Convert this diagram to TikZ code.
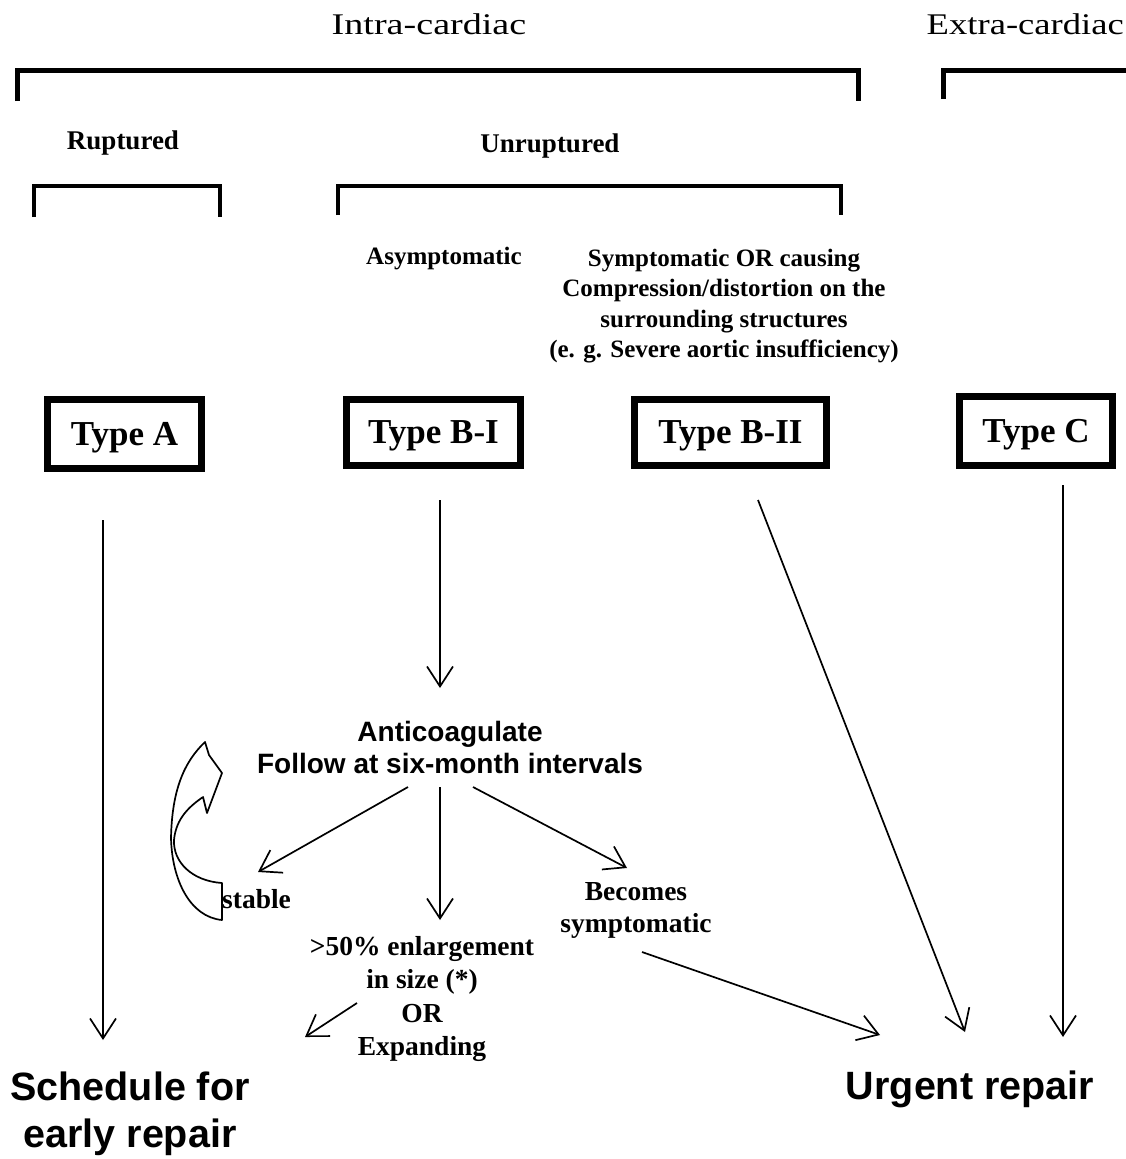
\documentclass[tikz,border=0pt]{standalone}
\usepackage{fontspec}
\setmainfont{Liberation Serif}
\setsansfont{Liberation Sans}
\usetikzlibrary{arrows.meta}
\tikzset{
  lbl/.style={font=\fontsize{25}{30}\selectfont\bfseries, align=center, inner sep=0pt},
  sub/.style={font=\fontsize{27}{30}\selectfont\bfseries, align=center, inner sep=0pt},
  low/.style={font=\fontsize{27.5}{33.3}\selectfont\bfseries, align=center, inner sep=0pt},
  head/.style={font=\fontsize{30}{34}\selectfont, inner sep=0pt},
  typebox/.style={draw, line width=7pt, font=\fontsize{35}{38}\selectfont\bfseries, inner sep=0pt, text depth=0pt},
  sanslbl/.style={font=\fontsize{28}{32}\selectfont\sffamily\bfseries, align=center, inner sep=0pt},
  bigsans/.style={font=\fontsize{39.5}{47}\selectfont\sffamily\bfseries, align=center, inner sep=0pt},
  brk/.style={line width=5pt},
  sbrk/.style={line width=4.5pt},
  arr/.style={line width=1.7pt, -{Straight Barb[length=20pt,width=26pt,line width=1.7pt]}},
}
\begin{document}
\begin{tikzpicture}[x=1pt,y=-1pt]
\useasboundingbox (0,0) rectangle (1125,1159);
\fill[white] (0,0) rectangle (1125,1159);

% headings
\node[head] (intra) at (429,24) {\scalebox{1.27}[1]{Intra-cardiac}};
\node[head, anchor=east] (extra) at (1124,24) {\scalebox{1.22}[1]{Extra-cardiac}};

% top brackets
\draw[brk] (17,101) -- (17,70) -- (858,70) -- (858,101);
\draw[brk] (943,99) -- (943,70) -- (1130,70);

\node[sub] (rup) at (123,143) {Ruptured};
\node[sub] (unrup) at (550,146) {Unruptured};

\draw[sbrk] (34,217) -- (34,186) -- (220,186) -- (220,217);
\draw[sbrk] (338,215) -- (338,186) -- (841,186) -- (841,215);

\node[lbl] (asym) at (444,259) {Asymptomatic};
\node[lbl, font=\fontsize{25}{30.5}\selectfont\bfseries] (sym) at (724,306) {Symptomatic OR causing\\Compression/distortion on the\\surrounding structures\\(e. g. Severe aortic insufficiency)};

% type boxes
\node[typebox, minimum width=154pt, minimum height=69pt] (typeA) at (124.5,433.5) {Type A};
\node[typebox, minimum width=174pt, minimum height=66pt] (typeBI) at (433.5,432.5) {Type B-I};
\node[typebox, minimum width=192pt, minimum height=66pt] (typeBII) at (730.5,432) {Type B-II};
\node[typebox, minimum width=153pt, minimum height=69pt] (typeC) at (1036,431) {Type C};

% middle block
\node[sanslbl] (anti) at (450,747) {Anticoagulate\\Follow at six-month intervals};
\node[low, anchor=west] (stable) at (222,899) {stable};
\node[low] (enl) at (422,999) {{>}50\% enlargement\\in size (*)\\OR\\Expanding};
\node[low, font=\fontsize{27.5}{32}\selectfont\bfseries] (bec) at (636,910) {Becomes\\symptomatic};

% outcomes
\node[bigsans] (sched) at (130,1114) {Schedule for\\early repair};
\node[bigsans] (urgent) at (970,1089) {Urgent repair};

% connector end points
\coordinate (aS) at (103,520);  \coordinate (aE) at (103,1040);
\coordinate (biS) at (440,500); \coordinate (biE) at (440,688);
\coordinate (biiS) at (758,500); \coordinate (biiE) at (965,1032);
\coordinate (cS) at (1063,485); \coordinate (cE) at (1063,1037);
\coordinate (an1) at (408,787); \coordinate (st) at (258,872);
\coordinate (an2) at (440,787); \coordinate (en) at (440,920);
\coordinate (an3) at (473,787); \coordinate (be) at (627,868);
\coordinate (enS) at (357,1003); \coordinate (enE) at (305,1037);
\coordinate (beS) at (642,952); \coordinate (beE) at (880,1035);

\draw[arr] (aS) -- (aE);
\draw[arr] (biS) -- (biE);
\draw[arr] (biiS) -- (biiE);
\draw[arr] (cS) -- (cE);
\draw[arr] (an1) -- (st);
\draw[arr] (an2) -- (en);
\draw[arr] (an3) -- (be);
\draw[arr] (enS) -- (enE);
\draw[arr] (beS) -- (beE);

% curved block arrow (stable loop)
\draw[line width=1.7pt, line join=round]
  (222,920) -- (222,883)
  .. controls (192,881) and (173,862) .. (174,840)
  .. controls (176,818) and (190,806) .. (203,797)
  -- (207,813) -- (222,773) -- (209,755) -- (205,742)
  .. controls (184,762) and (172,790) .. (171,838)
  .. controls (172,880) and (190,917) .. (222,920) -- cycle;
\end{tikzpicture}
\end{document}
